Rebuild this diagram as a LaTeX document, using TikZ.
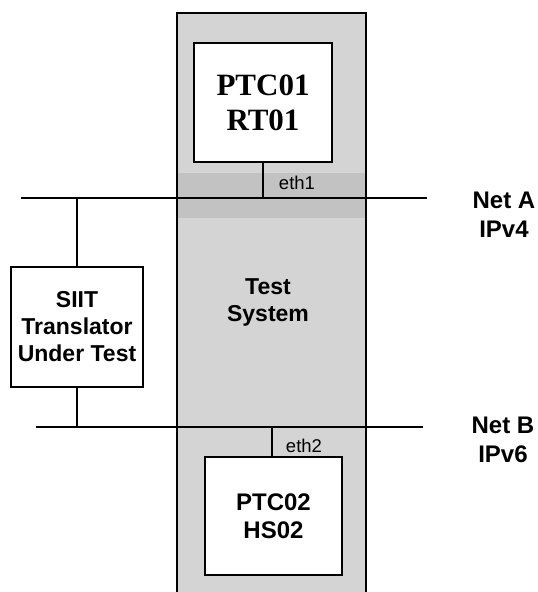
\documentclass[tikz,border=0pt]{standalone}
\usepackage{fontspec}
\setmainfont{Liberation Serif}
\setsansfont{Liberation Sans}
\definecolor{colgray}{RGB}{212,212,212}
\definecolor{bandgray}{RGB}{194,194,194}
\begin{document}
\begin{tikzpicture}[x=1pt,y=-1pt,
  box/.style={draw=black,line width=1.5pt,fill=white,inner sep=0pt,align=center},
  wire/.style={draw=black,line width=1.5pt},
  sanslbl/.style={font=\sffamily\bfseries\fontsize{23}{27}\selectfont,align=center,inner sep=0pt},
  ethlbl/.style={font=\sffamily\fontsize{18.5}{20}\selectfont,inner sep=0pt}]
\useasboundingbox (0,0) rectangle (538,592);
% test system column
\fill[colgray] (177,13) rectangle (366,592);
\fill[bandgray] (177,173) rectangle (366,218);
\draw[line width=1.5pt] (177,592) -- (177,13) -- (366,13) -- (366,592);
% nodes
\node[box,minimum width=138pt,minimum height=119pt,font=\rmfamily\bfseries\fontsize{31}{35}\selectfont] (ptc1) at (263,102.5) {PTC01\\RT01};
\node[box,minimum width=132pt,minimum height=120pt,font=\sffamily\bfseries\fontsize{23}{27}\selectfont] (siit) at (77,327) {SIIT\\Translator\\Under Test};
\node[box,minimum width=137pt,minimum height=118pt,font=\sffamily\bfseries\fontsize{24}{28}\selectfont] (ptc2) at (273.5,516) {PTC02\\HS02};
\node[sanslbl] (ts) at (268,302) {Test\\System};
\node[sanslbl,font=\sffamily\bfseries\fontsize{24}{29}\selectfont] (neta) at (504,215) {Net A\\IPv4};
\node[sanslbl,font=\sffamily\bfseries\fontsize{24}{29}\selectfont] (netb) at (503,440) {Net B\\IPv6};
\node[ethlbl] (eth1) at (297,183) {eth1};
\node[ethlbl] (eth2) at (304,446) {eth2};
% networks
\coordinate (aL) at (21,198);
\coordinate (aR) at (427,198);
\coordinate (bL) at (36,427);
\coordinate (bR) at (423,427);
\draw[wire] (aL) -- (aR);
\draw[wire] (bL) -- (bR);
% connections
\draw[wire] (ptc1.south) -- (ptc1.south |- aL);
\draw[wire] (siit.north) -- (siit.north |- aL);
\draw[wire] (siit.south) -- (siit.south |- bL);
\draw[wire] (ptc2.north -| 272,0) -- (272,427);
\end{tikzpicture}
\end{document}
